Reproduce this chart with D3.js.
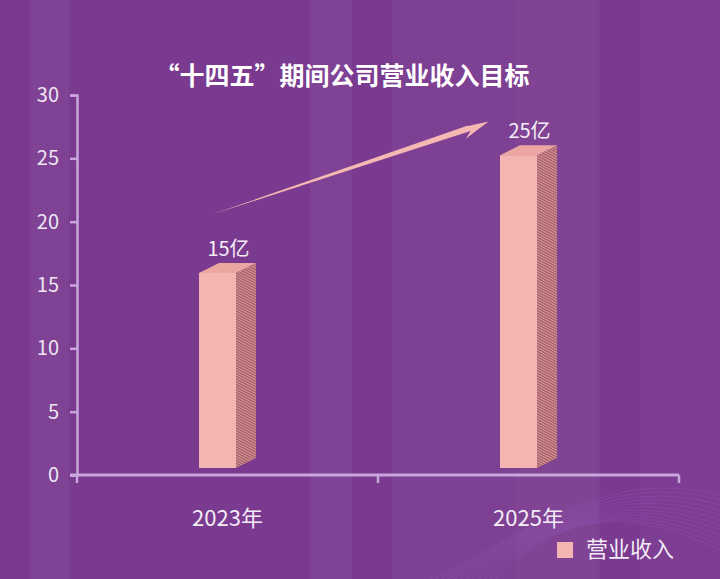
<!DOCTYPE html>
<html><head><meta charset="utf-8">
<script src="https://cdn.jsdelivr.net/npm/d3@7"></script>
<style>html,body{margin:0;padding:0;background:#7a3a90;}svg{display:block;font-family:"Noto Sans CJK SC","Noto Sans",sans-serif;}</style>
</head><body>
<script>
const categories = ["2023年", "2025年"];
const revenue = [15.4, 24.7];
const valueLabels = ["15亿", "25亿"];
const yTicks = [0, 5, 10, 15, 20, 25, 30];
const seriesName = "营业收入";
const title = "“十四五”期间公司营业收入目标";

const W = 720, H = 579;
const svg = d3.select("body").append("svg").attr("width", W).attr("height", H);
const defs = svg.append("defs");

// background
svg.append("rect").attr("width", W).attr("height", H).attr("fill", "#7a3a90");
const stripes = [[30, 69, 0.045], [310, 352, 0.045], [392, 600, 0.035], [515, 597, 0.025], [640, 720, 0.02]];
svg.selectAll("rect.stripe").data(stripes).join("rect").attr("class", "stripe")
  .attr("x", d => d[0]).attr("width", d => d[1] - d[0]).attr("y", 0).attr("height", H)
  .attr("fill", "#ffffff").attr("opacity", d => d[2]);

// decorative waves bottom right
const waveG = svg.append("g").attr("fill", "none").attr("stroke", "#b070e0");
for (let i = 0; i < 12; i++) {
  waveG.append("path")
    .attr("d", `M ${430 + i * 6} 579 C ${520 + i * 4} ${540 - i * 3}, ${600 + i * 3} ${465 + i * 4}, 720 ${495 + i * 5}`)
    .attr("stroke-width", 1).attr("opacity", 0.2);
}

// hatch pattern for side face
const pat = defs.append("pattern").attr("id", "hatch").attr("patternUnits", "userSpaceOnUse")
  .attr("width", 4).attr("height", 2.4).attr("patternTransform", "rotate(28)");
pat.append("rect").attr("width", 4).attr("height", 2.4).attr("fill", "#d4928f");
pat.append("rect").attr("width", 4).attr("height", 1.1).attr("fill", "#9c5866");

const x = d3.scaleBand().domain(categories).range([77, 679]);
const y = d3.scaleLinear().domain([0, 30]).range([475, 95]);

// title
svg.append("text").attr("x", 342).attr("y", 78).attr("text-anchor", "middle")
  .attr("dominant-baseline", "middle").attr("fill", "#ffffff")
  .attr("font-size", 25).attr("font-weight", "bold").text(title);

// y axis
const axisColor = "#c9a6dc";
const yAxis = svg.append("g").attr("transform", `translate(77,0)`)
  .call(d3.axisLeft(y).tickValues(yTicks).tickSize(7).tickPadding(11));
yAxis.select(".domain").attr("stroke", axisColor).attr("stroke-width", 2.5);
yAxis.selectAll(".tick line").attr("stroke", axisColor).attr("stroke-width", 2.5);
yAxis.selectAll(".tick text").attr("fill", "#eee6f2").attr("font-size", 20)
  .attr("font-family", "'Noto Sans CJK SC','Noto Sans',sans-serif");

// x axis (manual: ticks at band boundaries)
const xg = svg.append("g");
const [r0, r1] = x.range();
xg.append("line").attr("x1", r0 - 7).attr("x2", r1).attr("y1", y(0)).attr("y2", y(0))
  .attr("stroke", axisColor).attr("stroke-width", 3);
const bounds = [r0].concat(categories.map(c => x(c) + x.bandwidth()));
xg.selectAll("line.tk").data(bounds).join("line").attr("class", "tk")
  .attr("x1", d => d).attr("x2", d => d).attr("y1", y(0)).attr("y2", y(0) + 8)
  .attr("stroke", axisColor).attr("stroke-width", 2.5);
xg.selectAll("text.cat").data(categories).join("text").attr("class", "cat")
  .attr("x", d => x(d) + x.bandwidth() / 2).attr("y", 526)
  .attr("text-anchor", "middle").attr("fill", "#f3ecf6").attr("font-size", 22).text(d => d);

// 3D bars
const frontW = 37, dx = 20, dy = 10, lift = 7;
const bars = svg.append("g");
categories.forEach((c, i) => {
  const cx = x(c) + x.bandwidth() / 2;
  const fx1 = cx - (frontW + dx) / 2, fx2 = fx1 + frontW;
  const top = y(revenue[i]) - lift, bot = y(0) - lift;
  const g = bars.append("g");
  g.append("polygon").attr("points", [[fx2, top], [fx2 + dx, top - dy], [fx2 + dx, bot - dy], [fx2, bot]].join(" "))
    .attr("fill", "url(#hatch)");
  g.append("polygon").attr("points", [[fx1, top], [fx1 + dx, top - dy], [fx2 + dx, top - dy], [fx2, top]].join(" "))
    .attr("fill", "#eba6a2");
  g.append("rect").attr("x", fx1).attr("y", top).attr("width", frontW).attr("height", bot - top)
    .attr("fill", "#f3b4b2");
  g.append("text").attr("x", cx + 1).attr("y", top - dy - 7).attr("text-anchor", "middle")
    .attr("fill", "#f6eef6").attr("font-size", 20).text(valueLabels[i]);
});

// arrow
const c0 = x(categories[0]) + x.bandwidth() / 2, c1 = x(categories[1]) + x.bandwidth() / 2;
const tail = [c0 - 18, y(20.5)], tip = [c1 - 40, y(27.9)];
const vx = tip[0] - tail[0], vy = tip[1] - tail[1], L = Math.hypot(vx, vy);
const ux = vx / L, uy = vy / L, nx = -uy, ny = ux;
const P = (t, w) => [tail[0] + ux * t + nx * w, tail[1] + uy * t + ny * w];
const arrowPts = [tail, P(L - 20, 3.2), P(L - 27, 9), tip, P(L - 22, -2.5), P(L - 20, -3)];
svg.append("polygon").attr("points", arrowPts.map(p => p.join(",")).join(" ")).attr("fill", "#f5b8b2");

// legend
const lg = svg.append("g");
lg.append("rect").attr("x", 557).attr("y", 542).attr("width", 16).attr("height", 16).attr("fill", "#f3b4b2");
lg.append("text").attr("x", 586).attr("y", 551).attr("dominant-baseline", "middle")
  .attr("fill", "#f3ecf6").attr("font-size", 22).text(seriesName);
</script>
</body></html>
